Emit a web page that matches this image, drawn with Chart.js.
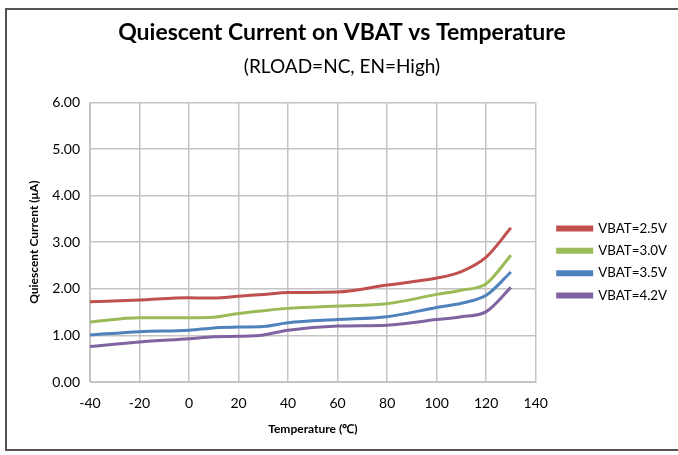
<!DOCTYPE html>
<html>
<head>
<meta charset="utf-8">
<script src="https://cdn.jsdelivr.net/npm/chart.js@4.4.0/dist/chart.umd.min.js"></script>
<style>
  html, body { margin: 0; padding: 0; background: #fff; overflow: hidden; }
  #frame {
    position: absolute; left: 5px; top: 8px;
    width: 690px; height: 443px;
    border: 2px solid #555; box-sizing: border-box;
  }
  #chartCanvas { display: block; }
</style>
</head>
<body>
<div id="frame"><canvas id="chartCanvas" width="670" height="439"></canvas></div>
<script>
const temps = [-40, -20, 0, 10, 20, 30, 40, 60, 80, 100, 110, 120, 130];
const vbat25 = [1.72, 1.76, 1.81, 1.80, 1.84, 1.88, 1.92, 1.93, 2.08, 2.23, 2.37, 2.68, 3.31];
const vbat30 = [1.29, 1.38, 1.38, 1.39, 1.47, 1.53, 1.58, 1.63, 1.68, 1.88, 1.97, 2.11, 2.72];
const vbat35 = [1.01, 1.08, 1.11, 1.16, 1.18, 1.19, 1.27, 1.34, 1.40, 1.60, 1.69, 1.86, 2.36];
const vbat42 = [0.76, 0.86, 0.93, 0.97, 0.98, 1.01, 1.11, 1.20, 1.22, 1.34, 1.40, 1.51, 2.03];
const seriesNames = ["VBAT=2.5V", "VBAT=3.0V", "VBAT=3.5V", "VBAT=4.2V"];
const seriesColors = ["#c0504d", "#9bbb59", "#4f81bd", "#8064a2"];

const font = "Lato, 'Open Sans', sans-serif";

function toPoints(values) {
  return temps.map((t, i) => ({ x: t, y: values[i] }));
}

const datasets = [vbat25, vbat30, vbat35, vbat42].map((vals, i) => ({
  label: seriesNames[i],
  data: toPoints(vals),
  borderColor: seriesColors[i],
  backgroundColor: seriesColors[i],
  borderWidth: 3,
  pointRadius: 0,
  cubicInterpolationMode: "monotone",
}));

const ctx = document.getElementById("chartCanvas").getContext("2d");
new Chart(ctx, {
  type: "line",
  data: { datasets },
  options: {
    responsive: false,
    animation: false,
    layout: { padding: { left: 0, right: 0, top: 4, bottom: 13 } },
    plugins: {
      title: {
        display: true,
        text: "Quiescent Current on VBAT vs Temperature",
        color: "#000",
        font: { family: font, size: 23, weight: "bold" },
        padding: { top: 5, bottom: 2 },
      },
      subtitle: {
        display: true,
        text: "(RLOAD=NC, EN=High)",
        color: "#000",
        font: { family: font, size: 19 },
        padding: { top: 7, bottom: 24 },
      },
      legend: {
        position: "right",
        maxWidth: 200,
        // blank title just pushes the items down a bit
        title: {
          display: true,
          text: " ",
          font: { size: 10 },
          padding: { top: 62, bottom: 0 },
        },
        labels: {
          boxWidth: 34,
          boxHeight: 3,
          color: "#000",
          padding: 9,
          font: { family: font, size: 13.3 },
        },
      },
      tooltip: { enabled: false },
    },
    scales: {
      x: {
        type: "linear",
        min: -40,
        max: 140,
        ticks: { stepSize: 20, color: "#000", padding: 13, font: { family: font, size: 14 } },
        grid: { color: "#c4c4c4", lineWidth: 1.5, drawTicks: false },
        border: { color: "#c4c4c4" },
        title: {
          display: true,
          text: "Temperature (℃)",
          color: "#000",
          font: { family: font, size: 12, weight: "bold" },
          padding: { top: 0, bottom: 0 },
        },
        afterFit: s => { s.height = 54; },
      },
      y: {
        min: 0,
        max: 6,
        ticks: {
          stepSize: 1,
          color: "#000",
          padding: 10,
          font: { family: font, size: 14 },
          callback: v => v.toFixed(2),
        },
        grid: { color: "#c4c4c4", lineWidth: 1.5, drawTicks: false },
        border: { color: "#c4c4c4" },
        title: {
          display: true,
          text: "Quiescent Current (μA)",
          color: "#000",
          font: { family: font, size: 12, weight: "bold" },
          padding: { top: 20, bottom: 0 },
        },
        afterFit: s => { s.width = 83; },
      },
      // empty axis on the right, only keeps a gap before the legend
      gap: {
        position: "right",
        display: true,
        grid: { display: false },
        ticks: { display: false },
        border: { display: false },
        afterFit: s => { s.width = 13; },
      },
    },
  },
});
</script>
</body>
</html>
